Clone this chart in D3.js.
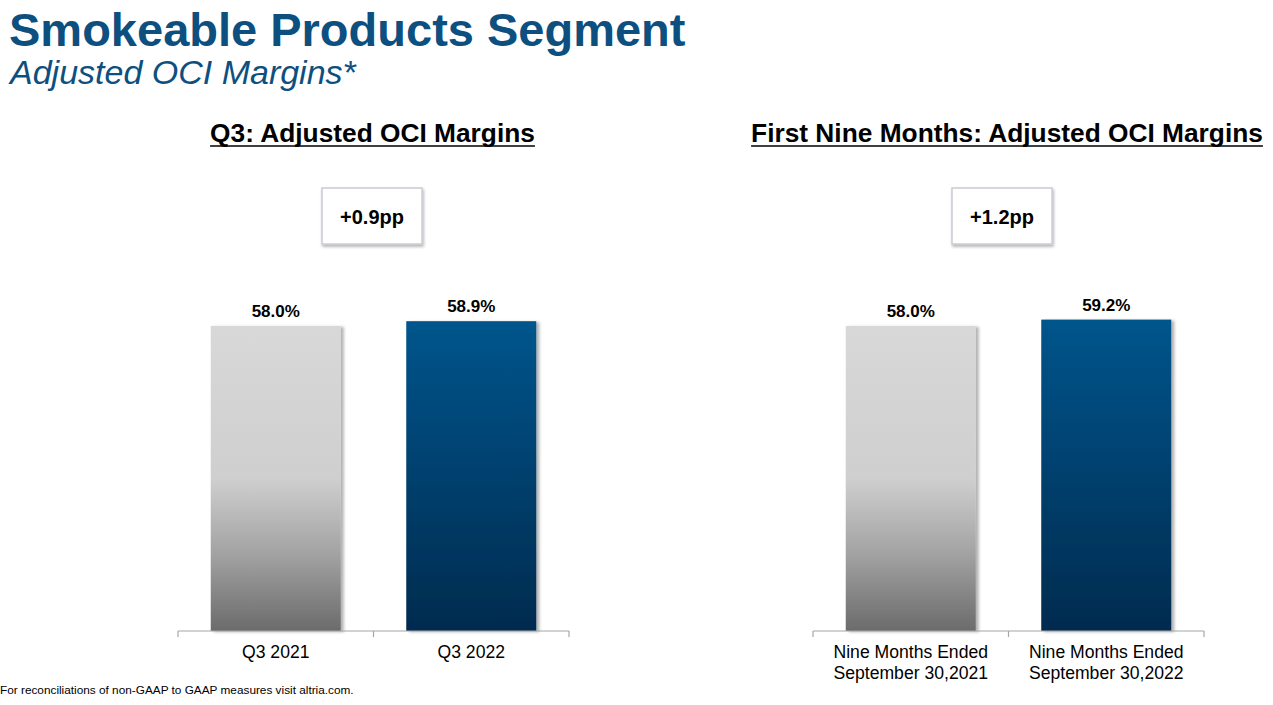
<!DOCTYPE html>
<html>
<head>
<meta charset="utf-8">
<script src="https://cdn.jsdelivr.net/npm/d3@7"></script>
<style>
  html, body { margin: 0; padding: 0; background: #fff; }
  svg { display: block; font-family: "Liberation Sans", Arial, sans-serif; }
</style>
</head>
<body>
<div id="chart"></div>
<script>
// data
const q3Labels = ["Q3 2021", "Q3 2022"];
const q3Values = [58.0, 58.9];
const q3Change = "+0.9pp";

const ytdLabels = [["Nine Months Ended", "September 30,2021"], ["Nine Months Ended", "September 30,2022"]];
const ytdValues = [58.0, 59.2];
const ytdChange = "+1.2pp";

const panelTitles = ["Q3: Adjusted OCI Margins", "First Nine Months: Adjusted OCI Margins"];

const W = 1273, H = 705;
const svg = d3.select("#chart").append("svg")
    .attr("width", W).attr("height", H);

const defs = svg.append("defs");

// gradients
const gGrey = defs.append("linearGradient").attr("id", "gradGrey")
    .attr("x1", 0).attr("y1", 0).attr("x2", 0).attr("y2", 1);
gGrey.append("stop").attr("offset", "0%").attr("stop-color", "#d8d8d8");
gGrey.append("stop").attr("offset", "50%").attr("stop-color", "#cfcfcf");
gGrey.append("stop").attr("offset", "75%").attr("stop-color", "#a2a2a2");
gGrey.append("stop").attr("offset", "100%").attr("stop-color", "#6b6b6b");

const gBlue = defs.append("linearGradient").attr("id", "gradBlue")
    .attr("x1", 0).attr("y1", 0).attr("x2", 0).attr("y2", 1);
gBlue.append("stop").attr("offset", "0%").attr("stop-color", "#00558c");
gBlue.append("stop").attr("offset", "100%").attr("stop-color", "#022b4f");

// drop shadow
const shadow = defs.append("filter").attr("id", "shadow")
    .attr("x", "-10%").attr("y", "-10%").attr("width", "130%").attr("height", "130%");
shadow.append("feDropShadow").attr("dx", 3).attr("dy", 1).attr("stdDeviation", 1.5)
    .attr("flood-color", "#000").attr("flood-opacity", 0.3);

const boxShadow = defs.append("filter").attr("id", "boxShadow")
    .attr("x", "-20%").attr("y", "-20%").attr("width", "140%").attr("height", "150%");
boxShadow.append("feDropShadow").attr("dx", 1).attr("dy", 2).attr("stdDeviation", 1.5)
    .attr("flood-color", "#000").attr("flood-opacity", 0.3);

// titles
svg.append("text")
    .attr("x", 9).attr("y", 46)
    .attr("font-size", 47).attr("font-weight", "bold")
    .attr("fill", "#0d5080")
    .text("Smokeable Products Segment");

svg.append("text")
    .attr("x", 10).attr("y", 84)
    .attr("font-size", 34).attr("font-style", "italic")
    .attr("fill", "#0d5080")
    .text("Adjusted OCI Margins*");

const y = d3.scaleLinear().domain([0, 100]).range([631, 105]);

function drawPanel(opts) {
    const g = svg.append("g");
    const x = d3.scaleBand().domain(d3.range(opts.values.length))
        .range([opts.x0, opts.x1]).padding(0);
    const barW = 130;
    const cx = opts.titleX;

    // panel title with underline
    const t = g.append("text")
        .attr("x", cx).attr("y", 142)
        .attr("text-anchor", "middle")
        .attr("font-size", 26.3).attr("font-weight", "bold")
        .attr("fill", "#000")
        .text(opts.title);
    const tw = t.node().getComputedTextLength();
    g.append("line")
        .attr("x1", cx - tw / 2).attr("x2", cx + tw / 2)
        .attr("y1", 146).attr("y2", 146)
        .attr("stroke", "#000").attr("stroke-width", 1.6);

    // change box
    g.append("rect")
        .attr("x", opts.boxX - 50).attr("y", 188)
        .attr("width", 100).attr("height", 56)
        .attr("fill", "#fff").attr("stroke", "#c9ccd4").attr("stroke-width", 1.5)
        .attr("filter", "url(#boxShadow)");
    g.append("text")
        .attr("x", opts.boxX).attr("y", 224)
        .attr("text-anchor", "middle")
        .attr("font-size", 20).attr("font-weight", "bold")
        .text(opts.change);

    // bars
    g.selectAll("rect.bar").data(opts.values).join("rect")
        .attr("class", "bar")
        .attr("x", (d, i) => x(i) + x.bandwidth() / 2 - barW / 2)
        .attr("y", d => y(d))
        .attr("width", barW)
        .attr("height", d => y(0) - y(d))
        .attr("fill", (d, i) => i === 0 ? "url(#gradGrey)" : "url(#gradBlue)")
        .attr("filter", "url(#shadow)");

    g.selectAll("text.val").data(opts.values).join("text")
        .attr("class", "val")
        .attr("x", (d, i) => x(i) + x.bandwidth() / 2)
        .attr("y", d => y(d) - 9)
        .attr("text-anchor", "middle")
        .attr("font-size", 17).attr("font-weight", "bold")
        .text(d => d.toFixed(1) + "%");

    // axis
    const axisY = y(0);
    g.append("line")
        .attr("x1", opts.x0).attr("x2", opts.x1)
        .attr("y1", axisY).attr("y2", axisY)
        .attr("stroke", "#a6a6a6").attr("stroke-width", 1.2);
    const ticks = [opts.x0].concat(d3.range(opts.values.length).map(i => x(i) + x.bandwidth()));
    g.selectAll("line.tick").data(ticks).join("line")
        .attr("class", "tick")
        .attr("x1", d => d).attr("x2", d => d)
        .attr("y1", axisY).attr("y2", axisY + 6)
        .attr("stroke", "#a6a6a6").attr("stroke-width", 1.2);

    // category labels
    g.selectAll("text.cat").data(opts.labels).join("text")
        .attr("class", "cat")
        .attr("x", (d, i) => x(i) + x.bandwidth() / 2)
        .attr("y", 658)
        .attr("text-anchor", "middle")
        .attr("font-size", 17.6).attr("fill", "#000")
        .each(function(d) {
            const lines = Array.isArray(d) ? d : [d];
            const el = d3.select(this);
            lines.forEach((ln, k) => {
                el.append("tspan")
                    .attr("x", el.attr("x"))
                    .attr("dy", k === 0 ? 0 : 21)
                    .text(ln);
            });
        });
}

drawPanel({
    x0: 178, x1: 569, titleX: 372.5, boxX: 372,
    title: panelTitles[0], values: q3Values, labels: q3Labels, change: q3Change
});

drawPanel({
    x0: 813, x1: 1204, titleX: 1007, boxX: 1002,
    title: panelTitles[1], values: ytdValues, labels: ytdLabels, change: ytdChange
});

// footnote
svg.append("text")
    .attr("x", 0).attr("y", 694)
    .attr("font-size", 11.8).attr("fill", "#000")
    .text("For reconciliations of non-GAAP to GAAP measures visit altria.com.");
</script>
</body>
</html>
